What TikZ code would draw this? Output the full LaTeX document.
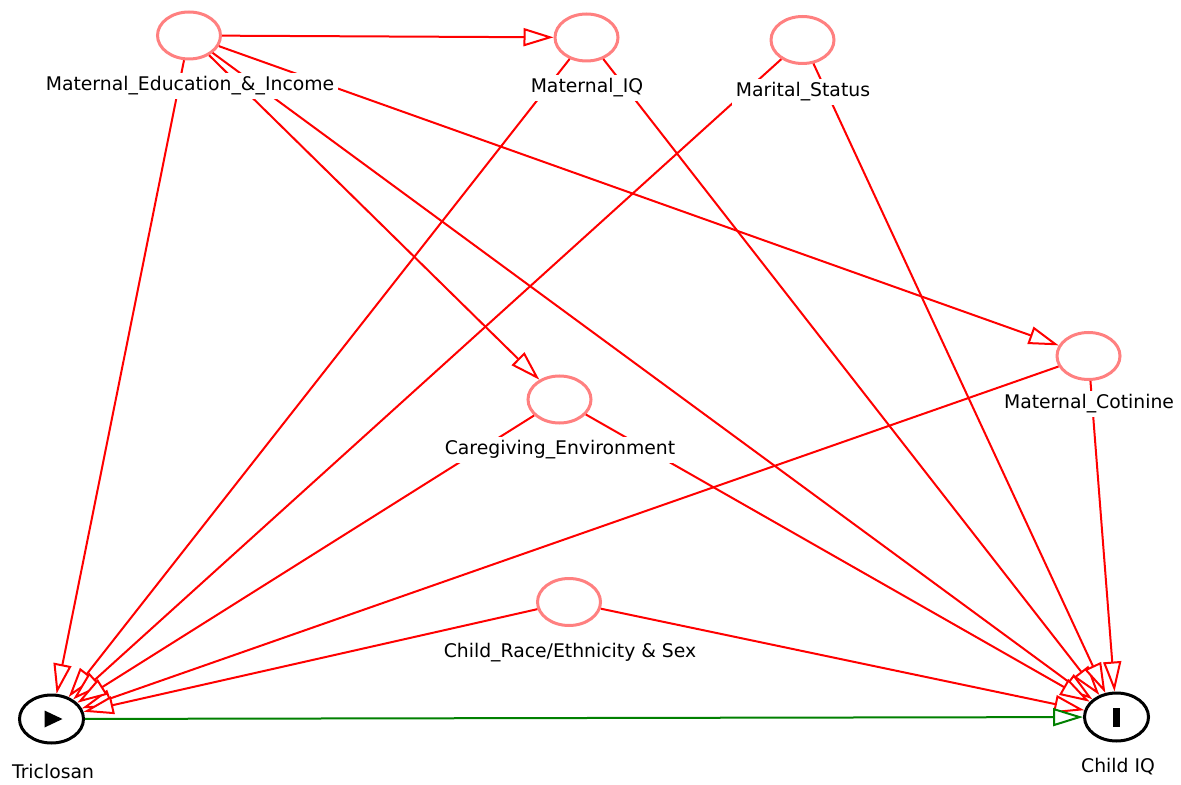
\documentclass[tikz,border=0pt]{standalone}
\usepackage{fontspec}
\setmainfont{DejaVu Sans}
\usetikzlibrary{arrows.meta,shapes.geometric}

\begin{document}
\begin{tikzpicture}[x=0.5pt,y=-0.5pt,
latentnode/.style={ellipse, draw=red!50, fill=white, line width=1.5pt, minimum width=31.5pt, minimum height=23.5pt, inner sep=0pt},
exposurenode/.style={ellipse, draw=black, fill=white, line width=1.5pt, minimum width=32pt, minimum height=24pt, inner sep=0pt},
labelnode/.style={fill=white, inner sep=2pt, font=\fontsize{9.4}{11}\selectfont},
causal/.style={draw=red, line width=1pt, -{Triangle[open, length=15pt, width=9pt, fill=white]}},
exposurearrow/.style={draw=green!50!black, line width=1pt, -{Triangle[open, length=15pt, width=9pt, fill=white]}}]

\useasboundingbox (0,0) rectangle (1181,785);

\node[latentnode](maternalEdu) at (189, 35.5){};
\node[latentnode](maternalIQ) at (586.5, 37.5){};
\node[latentnode](maritalStatus) at (802.5, 40){};
\node[latentnode](maternalCotinine) at (1088.5, 356){};
\node[latentnode](caregivingEnv) at (559.5, 399.5){};
\node[latentnode](childRace) at (569, 602){};

\node[exposurenode](triclosan) at (51.5, 719){};
\node[exposurenode](childIQ) at (1116.5, 717){};
\fill[shift={(triclosan.center)}] (-7,-8.5) -- (-7,8.5) -- (11,0) -- cycle;
\fill[shift={(childIQ.center)}] (-3.5,-9.5) rectangle (3.5,9.5);

\draw[causal](maternalEdu) -- (maternalIQ);
\draw[causal](maternalEdu) -- (triclosan);
\draw[causal](maternalEdu) -- (caregivingEnv);
\draw[causal](maternalEdu) -- (maternalCotinine);
\draw[causal](maternalEdu) -- (childIQ);

\draw[causal](maternalIQ) -- (triclosan);
\draw[causal](maternalIQ) -- (childIQ);
\draw[causal](maritalStatus) -- (triclosan);
\draw[causal](maritalStatus) -- (childIQ);
\draw[causal](maternalCotinine) -- (triclosan);
\draw[causal](maternalCotinine) -- (childIQ);
\draw[causal](caregivingEnv) -- (triclosan);
\draw[causal](caregivingEnv) -- (childIQ);
\draw[causal](childRace) -- (triclosan);
\draw[causal](childRace) -- (childIQ);

\draw[exposurearrow](triclosan) -- (childIQ);

\node[labelnode](maternalEduLabel) at (190, 86){Maternal\_Education\_\&\_Income};
\node[labelnode](maternalIQLabel) at (587, 88){Maternal\_IQ};
\node[labelnode](maritalStatusLabel) at (803, 92){Marital\_Status};
\node[labelnode](maternalCotinineLabel) at (1089, 404){Maternal\_Cotinine};
\node[labelnode](caregivingEnvLabel) at (560, 450){Caregiving\_Environment};
\node[labelnode](childRaceLabel) at (570, 653){Child\_Race/Ethnicity \& Sex};
\node[labelnode](triclosanLabel) at (53, 771){Triclosan};
\node[labelnode](childIQLabel) at (1118, 767){Child IQ};

\end{tikzpicture}
\end{document}
